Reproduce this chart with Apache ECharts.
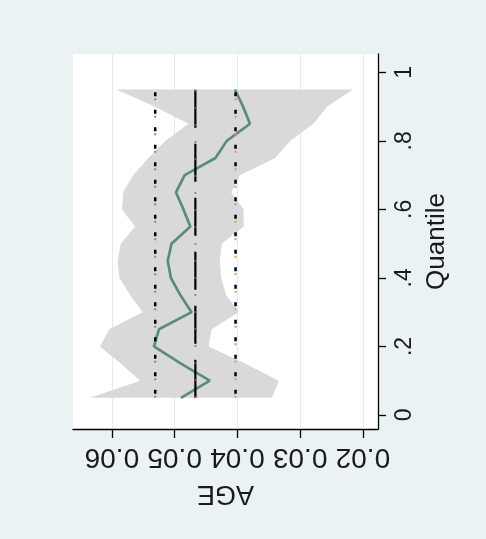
<!DOCTYPE html>
<html><head><meta charset="utf-8">
<script src="https://cdn.jsdelivr.net/npm/echarts@6/dist/echarts.min.js"></script>
<style>html,body{margin:0;padding:0;background:#eaf2f3}#c{width:486px;height:539px}</style>
</head><body><div id="c"></div>
<script>
// Quantile levels
const quantiles = [0.05,0.10,0.15,0.20,0.25,0.30,0.35,0.40,0.45,0.50,0.55,0.60,0.65,0.70,0.75,0.80,0.85,0.90,0.95];
// Quantile regression coefficient of AGE
const coef    = [0.0490,0.0444,0.0490,0.0533,0.0525,0.0473,0.0491,0.0506,0.0511,0.0505,0.0475,0.0486,0.0498,0.0484,0.0435,0.0417,0.0380,0.0391,0.0404];
// Confidence band bounds
const ciUpper = [0.0635,0.0555,0.0586,0.0619,0.0604,0.0551,0.0571,0.0588,0.0591,0.0586,0.0563,0.0584,0.0582,0.0566,0.0542,0.0515,0.0478,0.0532,0.0593];
const ciLower = [0.0345,0.0334,0.0388,0.0446,0.0441,0.0398,0.0418,0.0426,0.0428,0.0425,0.0390,0.0390,0.0410,0.0396,0.0340,0.0316,0.0279,0.0257,0.0216];
// OLS estimate and its confidence interval
const olsCoef = 0.0467;
const olsLow  = 0.0403;
const olsHigh = 0.0531;
// Tick values / labels
const ageTicks = [0.02,0.03,0.04,0.05,0.06];
const quantileTicks = [0,0.2,0.4,0.6,0.8,1];
const quantileTickLabels = ['0','.2','.4','.6','.8','1'];

const FONT = 'Liberation Sans, Arial, Helvetica, sans-serif';
const chart = echarts.init(document.getElementById('c'), null, {renderer:'canvas'});

const qFirst = quantiles[0], qLast = quantiles[quantiles.length-1];
function vline(x, color, dash, width, offset, z){
  return {type:'line', data:[[x,qFirst],[x,qLast]], showSymbol:false, silent:true, z:z,
    lineStyle:{color:color, width:width, type:dash, dashOffset:offset, cap:'butt'}};
}

chart.setOption({
  animation:false,
  backgroundColor:'#eaf2f3',
  grid:{left:73, right:108, top:54, bottom:110, containLabel:false, outerBoundsMode:'none',
        show:true, backgroundColor:'#ffffff', borderWidth:0},
  xAxis:{
    type:'value', inverse:true, min:0.0176, max:0.0662, position:'bottom',
    axisLine:{show:true, onZero:false, lineStyle:{color:'#000', width:1.3}},
    axisTick:{show:true, length:9, customValues:ageTicks, lineStyle:{color:'#000', width:1.3}},
    axisLabel:{customValues:ageTicks, rotate:180, margin:14, fontSize:28, color:'#1a1a1a', fontFamily:FONT,
      formatter:v=>v.toFixed(2)},
    splitLine:{show:true, lineStyle:{color:'#e0ecef', width:1}},
    name:'AGE', nameLocation:'middle', nameRotate:180, nameGap:51,
    nameTextStyle:{fontSize:27, color:'#1a1a1a', fontFamily:FONT}
  },
  yAxis:{
    type:'value', position:'right', min:-0.041, max:1.0536,
    axisLine:{show:true, onZero:false, lineStyle:{color:'#000', width:1.3}},
    axisTick:{show:true, length:8, customValues:quantileTicks, lineStyle:{color:'#000', width:1.3}},
    axisLabel:{customValues:quantileTicks, rotate:90, margin:15, fontSize:23, color:'#1a1a1a', fontFamily:FONT,
      formatter:v=>{const i=quantileTicks.findIndex(t=>Math.abs(t-v)<1e-9); return i>=0?quantileTickLabels[i]:'';}},
    splitLine:{show:false},
    name:'Quantile', nameLocation:'middle', nameRotate:90, nameGap:43,
    nameTextStyle:{fontSize:26, color:'#1a1a1a', fontFamily:FONT}
  },
  series:[
    {type:'custom', silent:true, z:1,
     data:quantiles.map((q,i)=>[ciUpper[i], ciLower[i], q]),
     encode:{x:[0,1], y:2},
     renderItem:(params, api)=>{
       if (params.dataIndex !== 0) return;
       const pts = [];
       for (let i=0;i<quantiles.length;i++) pts.push(api.coord([ciUpper[i], quantiles[i]]));
       for (let i=quantiles.length-1;i>=0;i--) pts.push(api.coord([ciLower[i], quantiles[i]]));
       return {type:'polygon', shape:{points:pts}, style:{fill:'#d9d9d9', stroke:null}};
     }},
    {type:'line', data:quantiles.map((q,i)=>[coef[i], q]), showSymbol:false, silent:true, z:3,
     lineStyle:{color:'#5b8c7b', width:2.7}},
    vline(olsLow, '#f0953c', [2,15.5], 2, 0, 4),
    vline(olsLow, '#000000', [4,13.5], 2.5, -4, 5),
    vline(olsHigh, '#6e9a55', [2,15.5], 2, 0, 4),
    vline(olsHigh, '#000000', [4,13.5], 2.5, -4, 5),
    vline(olsCoef, '#000000', [38,16], 2.2, 0, 5),
    vline(olsCoef, '#c0505a', [1.5,15.5], 2, 0, 6)
  ]
});
</script></body></html>
